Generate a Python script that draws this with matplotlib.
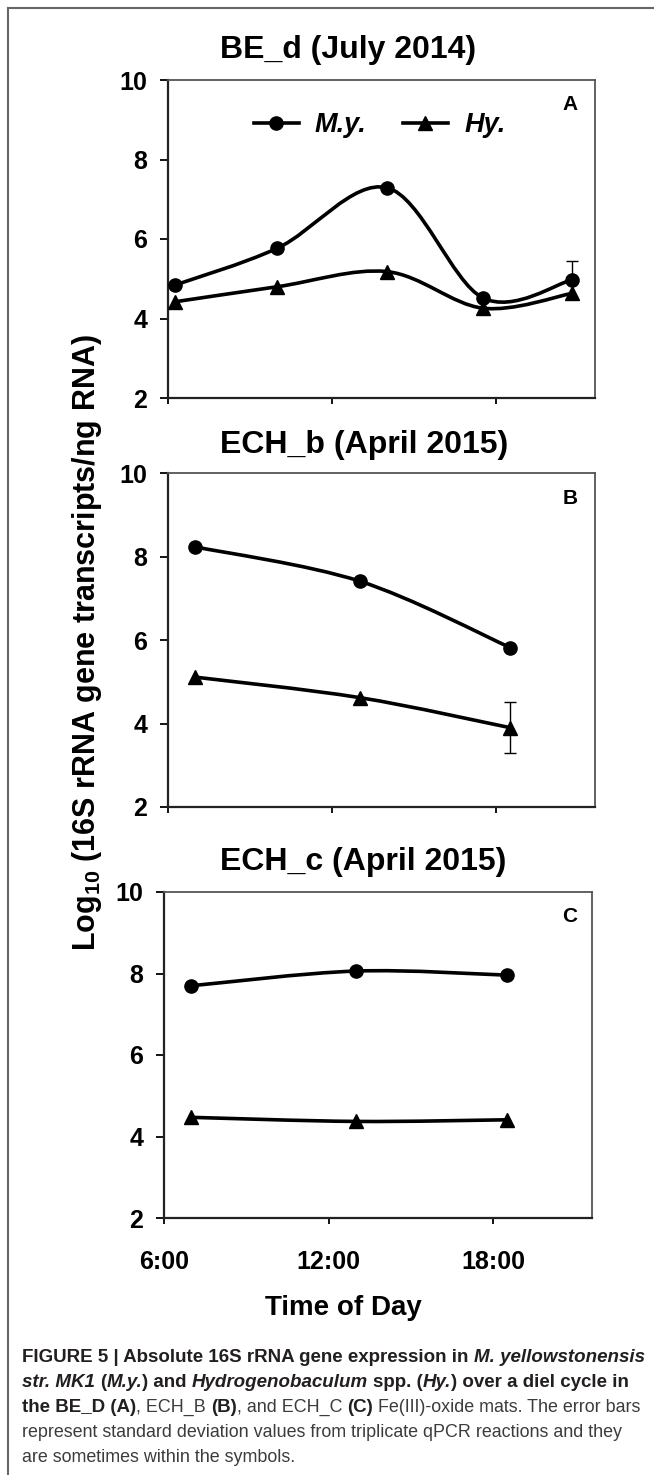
import numpy as np
import matplotlib
matplotlib.use('Agg')
import matplotlib.pyplot as plt
from matplotlib.path import Path
from matplotlib.patches import PathPatch
from matplotlib.lines import Line2D
from matplotlib.transforms import IdentityTransform

plt.rcParams['font.family'] = ['Liberation Sans', 'DejaVu Sans']
plt.rcParams['font.weight'] = 'bold'
plt.rcParams['mathtext.fontset'] = 'custom'
plt.rcParams['mathtext.rm'] = 'Liberation Sans:bold'
plt.rcParams['mathtext.default'] = 'rm'

# Datos (hora del dia, log10 copias)
# A) BE_d (July 2014)
hours_a = [6.25, 10.0, 14.0, 17.5, 20.75]
my_a = [4.84, 5.77, 7.29, 4.52, 4.97]
hy_a = [4.42, 4.80, 5.18, 4.26, 4.63]
my_a_err = [0, 0, 0, 0, 0.48]
hy_a_err = [0, 0, 0, 0, 0]

# B) ECH_b (April 2015)
hours_b = [7.0, 13.0, 18.5]
my_b = [8.23, 7.41, 5.82]
hy_b = [5.11, 4.62, 3.90]
my_b_err = [0, 0, 0]
hy_b_err = [0, 0, 0.61]

# C) ECH_c (April 2015)
hours_c = [7.0, 13.0, 18.5]
my_c = [7.70, 8.06, 7.96]
hy_c = [4.47, 4.37, 4.41]
my_c_err = [0, 0, 0]
hy_c_err = [0, 0, 0]

x_ticks = [6, 12, 18]
x_tick_labels = ['6:00', '12:00', '18:00']
y_ticks = [2, 4, 6, 8, 10]

W, H = 654, 1475
fig = plt.figure(figsize=(W / 100, H / 100), dpi=100)
px = IdentityTransform()


def smooth_path(xs, ys):
    # curva suavizada tipo Excel (Bezier por tramos)
    pts = np.column_stack([xs, ys]).astype(float)
    n = len(pts)
    verts = [pts[0]]
    codes = [Path.MOVETO]
    for i in range(n - 1):
        p0 = pts[max(i - 1, 0)]
        p1 = pts[i]
        p2 = pts[i + 1]
        p3 = pts[min(i + 2, n - 1)]
        verts += [p1 + (p2 - p0) / 6, p2 - (p3 - p1) / 6, p2]
        codes += [Path.CURVE4] * 3
    return Path(verts, codes)


panels = [
    ('BE_d (July 2014)', 'A', hours_a, my_a, hy_a, my_a_err, hy_a_err, (168, 80, 595, 398), (348, 50)),
    ('ECH_b (April 2015)', 'B', hours_b, my_b, hy_b, my_b_err, hy_b_err, (168, 473, 595, 807), (364, 445)),
    ('ECH_c (April 2015)', 'C', hours_c, my_c, hy_c, my_c_err, hy_c_err, (164, 892, 592, 1218), (363, 862)),
]

for k, (title, letter, xs, my, hy, my_err, hy_err, box, tpos) in enumerate(panels):
    l, t, r, b = box
    ax = fig.add_axes([l / W, 1 - b / H, (r - l) / W, (b - t) / H])
    for ys, err, mk, ms in [(my, my_err, 'o', 9.5), (hy, hy_err, '^', 10)]:
        ax.add_patch(PathPatch(smooth_path(xs, ys), facecolor='none', edgecolor='black',
                               lw=2.6, joinstyle='round', capstyle='round', zorder=3))
        ax.plot(xs, ys, mk, ms=ms, color='black', zorder=4)
        e = np.array(err)
        m = e > 0
        if m.any():
            ax.errorbar(np.array(xs)[m], np.array(ys)[m], yerr=e[m], fmt='none', ecolor='black',
                        elinewidth=1.0, capsize=4, capthick=1.0, zorder=2)
    ax.set_xlim(6, 21.6)
    ax.set_ylim(2, 10)
    ax.set_xticks(x_ticks)
    ax.set_xticklabels(x_tick_labels)
    ax.set_yticks(y_ticks)
    ax.tick_params(axis='y', direction='out', length=6, width=1.3, labelsize=18, pad=9)
    ax.tick_params(axis='x', direction='out', length=4, width=1.3, labelsize=18, pad=19,
                   labelbottom=(k == 2))
    for side in ['left', 'bottom']:
        ax.spines[side].set_color('#222222')
        ax.spines[side].set_linewidth(1.6)
    for side in ['top', 'right']:
        ax.spines[side].set_color('#555555')
        ax.spines[side].set_linewidth(1.3)
    fig.text(tpos[0], H - tpos[1], title, transform=px, ha='center', va='center', fontsize=23)
    fig.text(570, H - (t + 25), letter, transform=px, ha='center', va='center', fontsize=15)
    if k == 0:
        handles = [Line2D([], [], color='black', lw=2.6, marker='o', ms=9.5),
                   Line2D([], [], color='black', lw=2.6, marker='^', ms=10)]
        ax.legend(handles, ['M.y.', 'Hy.'], ncol=2, frameon=False, loc='center',
                  bbox_to_anchor=(379.5, H - 125), bbox_transform=px,
                  prop={'weight': 'bold', 'style': 'italic', 'size': 19.5},
                  handlelength=1.67, handletextpad=0.6, columnspacing=1.33)

fig.text(87, H - 643, 'Log$_{10}$ (16S rRNA gene transcripts/ng RNA)', transform=px,
         rotation=90, ha='center', va='center', fontsize=22)
fig.text(343, H - 1308, 'Time of Day', transform=px, ha='center', va='center', fontsize=20)

# marco de la figura
fig.add_artist(Line2D([8, W], [H - 8, H - 8], transform=px, color='#666666', lw=1.5))
fig.add_artist(Line2D([8, 8], [0, H - 8], transform=px, color='#666666', lw=1.5))

# leyenda de la figura (texto con estilos mezclados)
renderer = fig.canvas.get_renderer()
BOLD = dict(weight='bold', style='normal', color='#231f20')
BOLDIT = dict(weight='bold', style='italic', color='#231f20')
REG = dict(weight='normal', style='normal', color='#3c3c3c')

caption = [
    [('FIGURE 5 | Absolute 16S rRNA gene expression in ', BOLD), ('M. yellowstonensis', BOLDIT)],
    [('str. MK1', BOLDIT), (' (', BOLD), ('M.y.', BOLDIT), (') and ', BOLD), ('Hydrogenobaculum', BOLDIT),
     (' spp. (', BOLD), ('Hy.', BOLDIT), (') over a diel cycle in', BOLD)],
    [('the BE_D (A)', BOLD), (', ECH_B ', REG), ('(B)', BOLD), (', and ECH_C ', REG), ('(C)', BOLD),
     (' Fe(III)-oxide mats. The error bars', REG)],
    [('represent standard deviation values from triplicate qPCR reactions and they', REG)],
    [('are sometimes within the symbols.', REG)],
]


def advance(s, props):
    a = fig.text(0, 0, 'X' + s + 'X', transform=px, **props)
    b = fig.text(0, 0, 'XX', transform=px, **props)
    w = a.get_window_extent(renderer).width - b.get_window_extent(renderer).width
    a.remove()
    b.remove()
    return w


def line_width(line, size_b, size_r):
    total = 0
    for s, st in line:
        total += advance(s, dict(st, fontsize=size_r if st is REG else size_b))
    return total


# tamanos: regular ajustado a la linea 4, negrita a la linea 1
size_r = 10 * 601 / line_width(caption[3], 10, 10)
size_b = 10 * 626 / line_width(caption[0], 10, 10)

baselines = [1362, 1387, 1412, 1437, 1462]
for line, yb in zip(caption, baselines):
    x = 22
    for s, st in line:
        props = dict(st, fontsize=size_r if st is REG else size_b)
        stripped = s.lstrip(' ')
        lead = len(s) - len(stripped)
        if lead:
            x += advance(' ' * lead, props)
        fig.text(x, H - yb, stripped, transform=px, ha='left', va='baseline', **props)
        x += advance(stripped, props)

fig.savefig('out.png', dpi=100)
